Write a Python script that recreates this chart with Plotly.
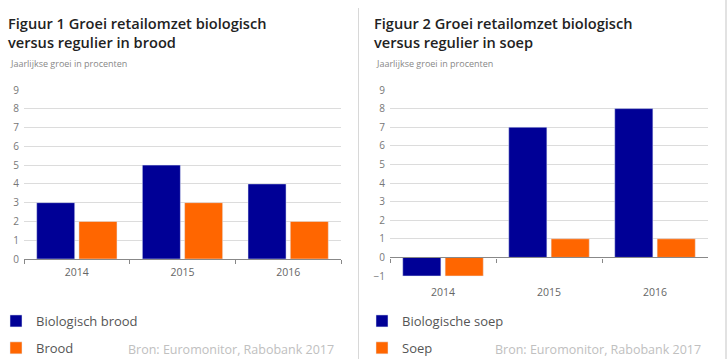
import plotly.graph_objects as go

W, H = 727, 359

years = ["2014", "2015", "2016"]
bio_brood = [3, 5, 4]
brood = [2, 3, 2]
bio_soep = [-1, 7, 8]
soep = [-1, 1, 1]

y_ticks_left = list(range(0, 10))
y_ticks_right = list(range(-1, 10))

BLUE = "#000096"
ORANGE = "#FF6600"
FONT = "Open Sans"

def px_x(p):
    return p / W

def px_y(p):
    return 1 - p / H

fig = go.Figure()

fig.add_trace(go.Bar(x=years, y=bio_brood, name="Biologisch brood", marker_color=BLUE,
                     xaxis="x", yaxis="y", legend="legend", legendgroup="a"))
fig.add_trace(go.Bar(x=years, y=brood, name="Brood", marker_color=ORANGE,
                     xaxis="x", yaxis="y", legend="legend", legendgroup="b"))
fig.add_trace(go.Bar(x=years, y=bio_soep, name="Biologische soep", marker_color=BLUE,
                     xaxis="x2", yaxis="y2", legend="legend2", legendgroup="c"))
fig.add_trace(go.Bar(x=years, y=soep, name="Soep", marker_color=ORANGE,
                     xaxis="x2", yaxis="y2", legend="legend2", legendgroup="d"))

grid = "#dcdcdc"
tickfont = dict(family=FONT, size=10, color="#777")
catfont = dict(family=FONT, size=10.5, color="#666")

# left panel: y 0..9 maps to px 259..90
l_lo, l_hi = 0.0, 9.05
l_unit = (259 - 90) / 9
l_top = 259 - l_hi * l_unit
l_bot = 259 - l_lo * l_unit

# right panel: y -1..9 maps to px 276..90
r_lo, r_hi = -1.05, 9.05
r_unit = (276 - 90) / 10
r_zero = 276 - r_unit
r_top = r_zero - r_hi * r_unit
r_bot = r_zero - r_lo * r_unit

fig.update_layout(
    width=W, height=H, margin=dict(l=0, r=0, t=0, b=0, autoexpand=False),
    paper_bgcolor="white", plot_bgcolor="white",
    barmode="group", bargap=0.2, bargroupgap=0.1,
    font=dict(family=FONT),
    xaxis=dict(domain=[px_x(24), px_x(341)], anchor="y", type="category",
               showline=True, linecolor="#888", linewidth=1.2,
               ticks="outside", tickson="boundaries", ticklen=4, tickcolor="#888",
               showgrid=False, tickfont=catfont, ticklabelstandoff=3),
    yaxis=dict(domain=[px_y(l_bot), px_y(l_top)], anchor="x", range=[l_lo, l_hi],
               tickvals=y_ticks_left, showgrid=True, gridcolor=grid, gridwidth=1,
               zeroline=False, showline=False, ticks="", tickfont=tickfont,
               ticklabelstandoff=4),
    xaxis2=dict(domain=[px_x(390), px_x(708)], anchor="free", type="category",
                position=px_y(r_zero),
                showline=True, linecolor="#888", linewidth=1.2,
                ticks="outside", tickson="boundaries", ticklen=4, tickcolor="#888",
                showgrid=False, tickfont=catfont, ticklabelstandoff=25),
    yaxis2=dict(domain=[px_y(r_bot), px_y(r_top)], anchor="x2", range=[r_lo, r_hi],
                tickvals=y_ticks_right, showgrid=True, gridcolor=grid, gridwidth=1,
                zeroline=False, showline=False, ticks="", tickfont=tickfont,
                ticklabelstandoff=4),
    legend=dict(x=px_x(-4), y=px_y(306), xanchor="left", yanchor="top",
                font=dict(family=FONT, size=13, color="#555"),
                tracegroupgap=7, bgcolor="rgba(0,0,0,0)", traceorder="grouped"),
    legend2=dict(x=px_x(362), y=px_y(306), xanchor="left", yanchor="top",
                 font=dict(family=FONT, size=13, color="#555"),
                 tracegroupgap=7, bgcolor="rgba(0,0,0,0)", traceorder="grouped"),
    showlegend=True,
)

def text(x, y, s, size, color, weight="normal"):
    fig.add_annotation(x=px_x(x), y=px_y(y), xref="paper", yref="paper",
                       xanchor="left", yanchor="middle", align="left", showarrow=False,
                       text=s, font=dict(family=FONT, size=size, color=color, weight=weight))

text(6, 33, "Figuur 1 Groei retailomzet biologisch<br>versus regulier in brood", 14.6, "#222", 600)
text(8, 63, "Jaarlijkse groei in procenten", 9, "#888")
text(372, 33, "Figuur 2 Groei retailomzet biologisch<br>versus regulier in soep", 14.6, "#222", 600)
text(374, 63, "Jaarlijkse groei in procenten", 9, "#888")
text(126, 349, "Bron: Euromonitor, Rabobank 2017", 12.5, "#c0c0c0")
text(493, 349, "Bron: Euromonitor, Rabobank 2017", 12.5, "#c0c0c0")

fig.add_shape(type="line", xref="paper", yref="paper", x0=px_x(358.5), x1=px_x(358.5),
              y0=px_y(8), y1=0, line=dict(color="#d8d8d8", width=1))
fig.add_shape(type="line", xref="paper", yref="paper", x0=px_x(726), x1=px_x(726),
              y0=1, y1=0, line=dict(color="#d8d8d8", width=1.5))

# remove the default page margin so the figure sits at the window's top-left corner
fig.write_html("out.html", config={"displayModeBar": False},
               post_script="document.body.style.margin='0';document.body.style.overflow='hidden';")
